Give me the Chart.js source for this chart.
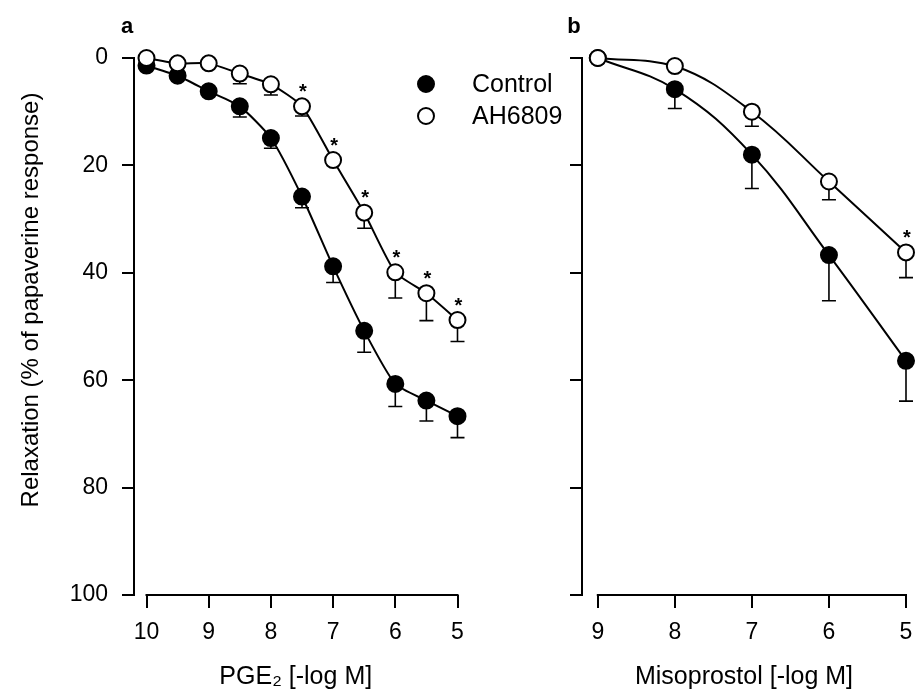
<!DOCTYPE html>
<html>
<head>
<meta charset="utf-8">
<title>Relaxation to PGE2 and misoprostol</title>
<script src="https://cdn.jsdelivr.net/npm/chart.js@4.4.1/dist/chart.umd.min.js"></script>
<style>
  html, body { margin: 0; padding: 0; background: #fff; }
  body { width: 916px; height: 693px; position: relative; overflow: hidden; }
  canvas { position: absolute; top: 0; }
  #chart-a { left: 0; }
  #chart-b { left: 470px; }
</style>
</head>
<body>
<canvas id="chart-a" width="590" height="693"></canvas>
<canvas id="chart-b" width="446" height="693"></canvas>
<script>
// Panel a: PGE2 [-log M]
const pgeDoses = [10, 9.5, 9, 8.5, 8, 7.5, 7, 6.5, 6, 5.5, 5];
const pgeControl = [1.4, 3.3, 6.2, 9.0, 14.9, 25.8, 38.8, 50.8, 60.7, 63.8, 66.7];
const pgeControlErr = [0, 0, 0, 2.0, 1.9, 2.1, 3.0, 4.0, 4.2, 3.8, 4.0];
const pgeAH = [0, 1.0, 1.0, 2.9, 4.9, 9.0, 19.0, 28.8, 39.9, 43.8, 48.8];
const pgeAHErr = [0, 0, 0, 1.9, 2.0, 1.8, 0.8, 2.9, 4.8, 5.1, 4.0];
const pgeAHStars = [false, false, false, false, false, true, true, true, true, true, true];
const pgeTicks = [10, 9, 8, 7, 6, 5];

// Panel b: Misoprostol [-log M]
const misoDoses = [9, 8, 7, 6, 5];
const misoControl = [0, 5.8, 18.0, 36.7, 56.4];
const misoControlErr = [0, 3.6, 6.3, 8.5, 7.5];
const misoAH = [0, 1.5, 10.0, 23.0, 36.2];
const misoAHErr = [0, 0, 2.7, 3.4, 4.7];
const misoAHStars = [false, false, false, false, true];
const misoTicks = [9, 8, 7, 6, 5];

const yTicks = [0, 20, 40, 60, 80, 100];
const seriesNames = ['Control', 'AH6809'];
const yTitle = 'Relaxation (% of papaverine response)';

const FONT = "'Liberation Sans', Arial, Helvetica, sans-serif";
Chart.defaults.font.family = FONT;
Chart.defaults.color = '#000';

function points(doses, values) {
  return doses.map((d, i) => ({ x: d, y: values[i] }));
}

function makeDataset(label, doses, values, errors, stars, filled, tension) {
  return {
    label,
    data: points(doses, values),
    errors,
    stars: stars || [],
    borderColor: '#000',
    borderWidth: 2,
    pointRadius: 8,
    pointHoverRadius: 8,
    pointBorderWidth: 2,
    pointBorderColor: '#000',
    pointBackgroundColor: filled ? '#000' : '#fff',
    tension,
    fill: false,
    clip: false,
  };
}

// error bars drawn downward (the y axis is reversed) with a small cap
const errorBars = {
  id: 'errorBars',
  beforeDatasetsDraw(chart) {
    const ctx = chart.ctx;
    const yScale = chart.scales.y;
    ctx.save();
    ctx.strokeStyle = '#000';
    ctx.lineWidth = 1.6;
    chart.data.datasets.forEach((ds, i) => {
      const meta = chart.getDatasetMeta(i);
      meta.data.forEach((pt, j) => {
        const err = ds.errors[j];
        if (!err) return;
        const yEnd = yScale.getPixelForValue(ds.data[j].y + err);
        ctx.beginPath();
        ctx.moveTo(pt.x, pt.y);
        ctx.lineTo(pt.x, yEnd);
        ctx.moveTo(pt.x - 7, yEnd);
        ctx.lineTo(pt.x + 7, yEnd);
        ctx.stroke();
      });
    });
    ctx.restore();
  },
  afterDatasetsDraw(chart) {
    const ctx = chart.ctx;
    ctx.save();
    ctx.fillStyle = '#000';
    ctx.font = 'bold 20px ' + FONT;
    ctx.textAlign = 'center';
    ctx.textBaseline = 'middle';
    chart.data.datasets.forEach((ds, i) => {
      const meta = chart.getDatasetMeta(i);
      meta.data.forEach((pt, j) => {
        if (ds.stars[j]) ctx.fillText('*', pt.x + 1, pt.y - 14);
      });
    });
    ctx.restore();
  },
};

// bottom axis line only spans the first to last tick, apart from the y axis;
// also the panel letter and the rotated y title
const frame = {
  id: 'frame',
  afterDraw(chart, args, opts) {
    const ctx = chart.ctx;
    const xs = chart.scales.x;
    const y = chart.chartArea.bottom;
    ctx.save();
    ctx.strokeStyle = '#000';
    ctx.fillStyle = '#000';
    ctx.lineWidth = 2;
    ctx.beginPath();
    ctx.moveTo(xs.getPixelForValue(opts.from) - 1, y);
    ctx.lineTo(xs.getPixelForValue(opts.to) + 1, y);
    ctx.stroke();
    ctx.font = 'bold 22px ' + FONT;
    ctx.textAlign = 'center';
    ctx.textBaseline = 'middle';
    ctx.fillText(opts.letter, chart.chartArea.left + opts.letterDx, 27);
    if (opts.yTitle) {
      ctx.translate(31, 300);
      ctx.rotate(-Math.PI / 2);
      ctx.font = '24px ' + FONT;
      ctx.fillText(opts.yTitle, 0, 0);
    }
    ctx.restore();
  },
};

const pointLegend = {
  id: 'pointLegend',
  afterDraw(chart, args, opts) {
    if (!opts.show) return;
    const ctx = chart.ctx;
    ctx.save();
    ctx.font = '25px ' + FONT;
    ctx.textBaseline = 'middle';
    ctx.textAlign = 'left';
    // legend order: Control first, then AH6809
    const order = [1, 0];
    order.forEach((di, k) => {
      const ds = chart.data.datasets[di];
      const cy = opts.y + k * 32;
      ctx.beginPath();
      ctx.arc(opts.x, cy, 8, 0, Math.PI * 2);
      ctx.fillStyle = ds.pointBackgroundColor;
      ctx.fill();
      ctx.lineWidth = 2;
      ctx.strokeStyle = '#000';
      ctx.stroke();
      ctx.fillStyle = '#000';
      ctx.fillText(ds.label, opts.x + 46, cy + 1);
    });
    ctx.restore();
  },
};

function makeChart(canvasId, cfg) {
  const xMin = cfg.ticks[cfg.ticks.length - 1];
  return new Chart(document.getElementById(canvasId), {
    type: 'line',
    data: {
      datasets: [
        makeDataset(seriesNames[1], cfg.doses, cfg.ah, cfg.ahErr, cfg.ahStars, false, cfg.tension),
        makeDataset(seriesNames[0], cfg.doses, cfg.control, cfg.controlErr, null, true, cfg.tension),
      ],
    },
    options: {
      responsive: false,
      animation: false,
      devicePixelRatio: 1,
      layout: { padding: { top: 58, right: cfg.padRight, left: 0, bottom: 0 } },
      plugins: {
        legend: { display: false },
        tooltip: { enabled: false },
        frame: {
          from: cfg.ticks[0], to: xMin, letter: cfg.letter, letterDx: cfg.letterDx,
          yTitle: cfg.yLabels ? yTitle : null,
        },
        pointLegend: { show: cfg.legend, x: 426, y: 84 },
      },
      scales: {
        x: {
          type: 'linear',
          reverse: true,
          min: xMin,
          max: cfg.xMax,
          afterBuildTicks: (scale) => { scale.ticks = cfg.ticks.map(v => ({ value: v })); },
          afterFit: (scale) => { scale.height = 98; scale.paddingLeft = 0; scale.paddingRight = 0; },
          border: { display: false },
          grid: { drawOnChartArea: false, drawTicks: true, tickLength: 13, color: '#000', lineWidth: 2 },
          ticks: {
            autoSkip: false, maxRotation: 0, padding: 11,
            font: { size: 23 },
            callback: (v) => String(v),
          },
          title: {
            display: true, text: cfg.xTitle,
            font: { size: 25 },
            padding: { top: 0, bottom: 1 },
          },
        },
        y: {
          reverse: true,
          min: 0,
          max: 100,
          afterBuildTicks: (scale) => { scale.ticks = yTicks.map(v => ({ value: v })); },
          afterFit: (scale) => { scale.width = cfg.yWidth; scale.paddingTop = 0; scale.paddingBottom = 0; },
          border: { display: true, color: '#000', width: 2 },
          grid: { drawOnChartArea: false, drawTicks: true, tickLength: 12, color: '#000', lineWidth: 2 },
          ticks: { display: cfg.yLabels, padding: 14, font: { size: 23 } },
          title: { display: false },
        },
      },
    },
    plugins: [errorBars, frame, pointLegend],
  });
}

makeChart('chart-a', {
  doses: pgeDoses, control: pgeControl, controlErr: pgeControlErr,
  ah: pgeAH, ahErr: pgeAHErr, ahStars: pgeAHStars,
  ticks: pgeTicks, xMax: 10.201, xTitle: 'PGE₂ [-log M]',
  yWidth: 134, padRight: 132.5, yLabels: true, legend: true,
  letter: 'a', letterDx: -7, tension: 0.2,
});

makeChart('chart-b', {
  doses: misoDoses, control: misoControl, controlErr: misoControlErr,
  ah: misoAH, ahErr: misoAHErr, ahStars: misoAHStars,
  ticks: misoTicks, xMax: 9.205, xTitle: 'Misoprostol [-log M]',
  yWidth: 112, padRight: 6, yLabels: false, legend: false,
  letter: 'b', letterDx: -8, tension: 0.4,
});
</script>
</body>
</html>
